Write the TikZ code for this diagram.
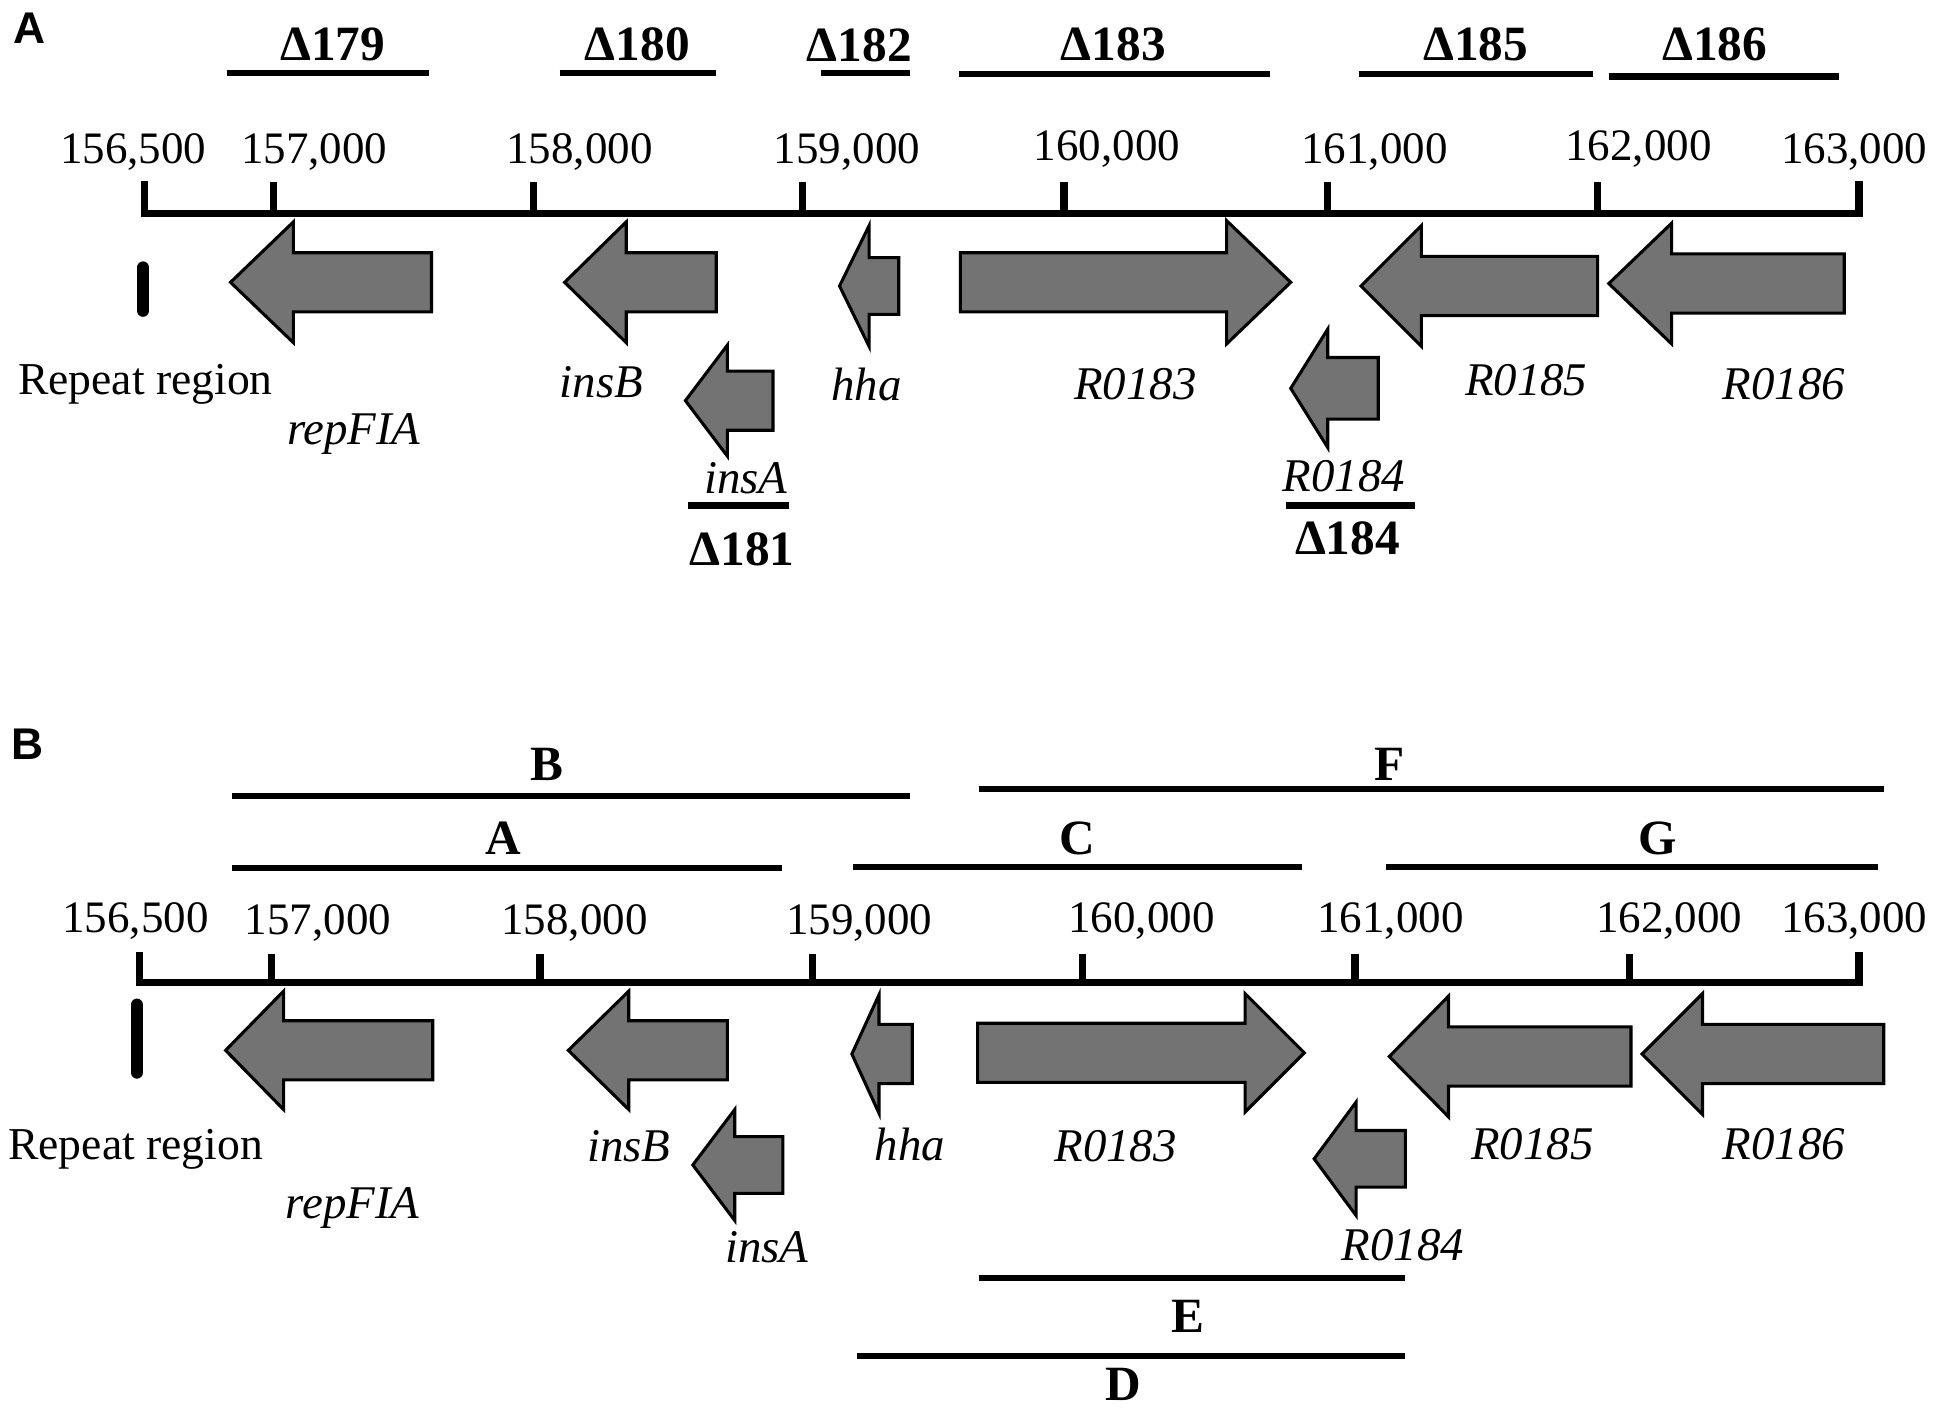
\documentclass[tikz,border=0pt]{standalone}
\usepackage{fontspec}
\setmainfont{Liberation Serif}
\newfontfamily\panelfont{Liberation Sans}
\newcommand{\gl}[6]{%
  \draw[gene] (#1,#4) -- (#2,{#4-#6}) -- (#2,{#4-#5}) -- (#3,{#4-#5}) -- (#3,{#4+#5}) -- (#2,{#4+#5}) -- (#2,{#4+#6}) -- cycle;}
\definecolor{genegray}{RGB}{115,115,115}
\tikzset{
  gene/.style={fill=genegray,draw=black,line width=2.5pt,line join=miter},
  axisline/.style={line width=6pt,line join=miter},
  tickmark/.style={line width=6pt},
  segline/.style={line width=5pt},
  repbar/.style={line width=10pt,line cap=round},
  ticklab/.style={inner sep=0pt,font=\fontsize{36.5}{40}\selectfont},
  genelab/.style={inner sep=0pt,font=\fontsize{38}{40}\selectfont\itshape},
  plainlab/.style={inner sep=0pt,font=\fontsize{37}{40}\selectfont},
  dellab/.style={inner sep=0pt,font=\fontsize{40}{44}\selectfont\bfseries},
  seglab/.style={inner sep=0pt,font=\fontsize{40}{42}\selectfont\bfseries},
  panellab/.style={inner sep=0pt,font=\fontsize{36}{38}\selectfont\panelfont\bfseries},
}
\begin{document}
\begin{tikzpicture}[x=1pt,y=-1pt]
\useasboundingbox (0,0) rectangle (1568,1143);
% ================= Panel A =================
\node[panellab] (pA) at (24,23) {A};
% deletion bars
\node[dellab] (d179) at (270,36) {Δ179};
\draw[segline] (184,59.5) -- (348,59.5);
\node[dellab] (d180) at (517,36) {Δ180};
\draw[segline] (454,59.5) -- (581,59.5);
\node[dellab] (d182) at (697,37) {Δ182};
\draw[segline] (666,59.5) -- (738,59.5);
\node[dellab] (d183) at (903,36) {Δ183};
\draw[segline] (778,60) -- (1030,60);
\node[dellab] (d185) at (1197,36) {Δ185};
\draw[segline] (1102,60) -- (1292,60);
\node[dellab] (d186) at (1391,36) {Δ186};
\draw[segline] (1305,62) -- (1492,62);
% tick labels
\node[ticklab] (ta1) at (108,123) {156,500};
\node[ticklab] (ta2) at (255,123) {157,000};
\node[ticklab] (ta3) at (470,123) {158,000};
\node[ticklab] (ta4) at (687,123) {159,000};
\node[ticklab] (ta5) at (898,121) {160,000};
\node[ticklab] (ta6) at (1115,123) {161,000};
\node[ticklab] (ta7) at (1329,121) {162,000};
\node[ticklab] (ta8) at (1504,123) {163,000};
% axis
\draw[axisline] (117,147) -- (117,173) -- (1508,173) -- (1508,147);
\foreach \t in {222,433,651,863,1077,1296}
  \draw[tickmark] (\t,148) -- (\t,173);
% repeat region
\draw[repbar] (116,217) -- (116,252);
\node[plainlab] (rrA) at (118,312) {Repeat region};
% genes
\gl{187}{238}{350}{229}{24}{49}
\gl{458}{508}{581}{229}{24}{49}
\gl{681}{705}{729}{232}{23}{49}
\gl{1047}{995}{779}{229}{24}{50}
\gl{1104}{1153}{1296}{232}{24}{49}
\gl{1305}{1356}{1496}{230}{24}{49}
\gl{556}{590}{627}{325}{24}{45}
\gl{1047}{1077}{1118}{315}{25}{48}
\node[genelab] (gA1) at (287,352) {repFIA};
\node[genelab] (gA2) at (488,310) {insB};
\node[genelab] (gA3) at (703,312) {hha};
\node[genelab] (gA4) at (921,312) {R0183};
\node[genelab] (gA5) at (605,388) {insA};
\node[genelab] (gA6) at (1090,386) {R0184};
\node[genelab] (gA7) at (1238,308) {R0185};
\node[genelab] (gA8) at (1447,312) {R0186};
\draw[segline] (558,410) -- (640,410);
\node[dellab] (d181) at (602,446) {Δ181};
\draw[segline] (1043,410) -- (1148,410);
\node[dellab] (d184) at (1093,437) {Δ184};
% ================= Panel B =================
\node[panellab] (pB) at (22,604) {B};
\node[seglab] (sB) at (444,620) {B};
\draw[segline] (188,646) -- (738,646);
\node[seglab] (sA) at (408,680) {A};
\draw[segline] (188,704) -- (634,704);
\node[seglab] (sF) at (1127,620) {F};
\draw[segline] (794,640) -- (1528,640);
\node[seglab] (sC) at (874,680) {C};
\draw[segline] (692,703) -- (1056,703);
\node[seglab] (sG) at (1345,680) {G};
\draw[segline] (1124,703) -- (1523,703);
% tick labels
\node[ticklab] (tb1) at (110,747) {156,500};
\node[ticklab] (tb2) at (258,749) {157,000};
\node[ticklab] (tb3) at (466,749) {158,000};
\node[ticklab] (tb4) at (697,749) {159,000};
\node[ticklab] (tb5) at (926,747) {160,000};
\node[ticklab] (tb6) at (1128,747) {161,000};
\node[ticklab] (tb7) at (1354,747) {162,000};
\node[ticklab] (tb8) at (1504,747) {163,000};
% axis
\draw[axisline] (113,772) -- (113,797) -- (1508,797) -- (1508,772);
\foreach \t in {220,438,659,878,1099,1322}
  \draw[tickmark] (\t,774) -- (\t,797);
% repeat region
\draw[repbar] (111,815) -- (111,870);
\node[plainlab] (rrB) at (110,932) {Repeat region};
% genes
\gl{183}{230}{351}{852}{24}{48}
\gl{461}{510}{590}{852}{24}{48}
\gl{691}{713}{740}{855}{24}{48}
\gl{1058}{1010}{793}{854}{24}{48}
\gl{1127}{1175}{1323}{857}{24}{49}
\gl{1332}{1381}{1528}{855}{24}{49}
\gl{562}{596}{635}{945}{23}{45}
\gl{1066}{1100}{1140}{940}{23}{46}
\node[genelab] (gB1) at (286,980) {repFIA};
\node[genelab] (gB2) at (510,930) {insB};
\node[genelab] (gB3) at (738,928) {hha};
\node[genelab] (gB4) at (905,930) {R0183};
\node[genelab] (gB5) at (622,1012) {insA};
\node[genelab] (gB6) at (1138,1010) {R0184};
\node[genelab] (gB7) at (1243,928) {R0185};
\node[genelab] (gB8) at (1447,928) {R0186};
% lower bars
\draw[segline] (794,1037) -- (1140,1037);
\node[seglab] (sE) at (964,1068) {E};
\draw[segline] (695,1100) -- (1140,1100);
\node[seglab] (sD) at (911,1123) {D};
\end{tikzpicture}
\end{document}
